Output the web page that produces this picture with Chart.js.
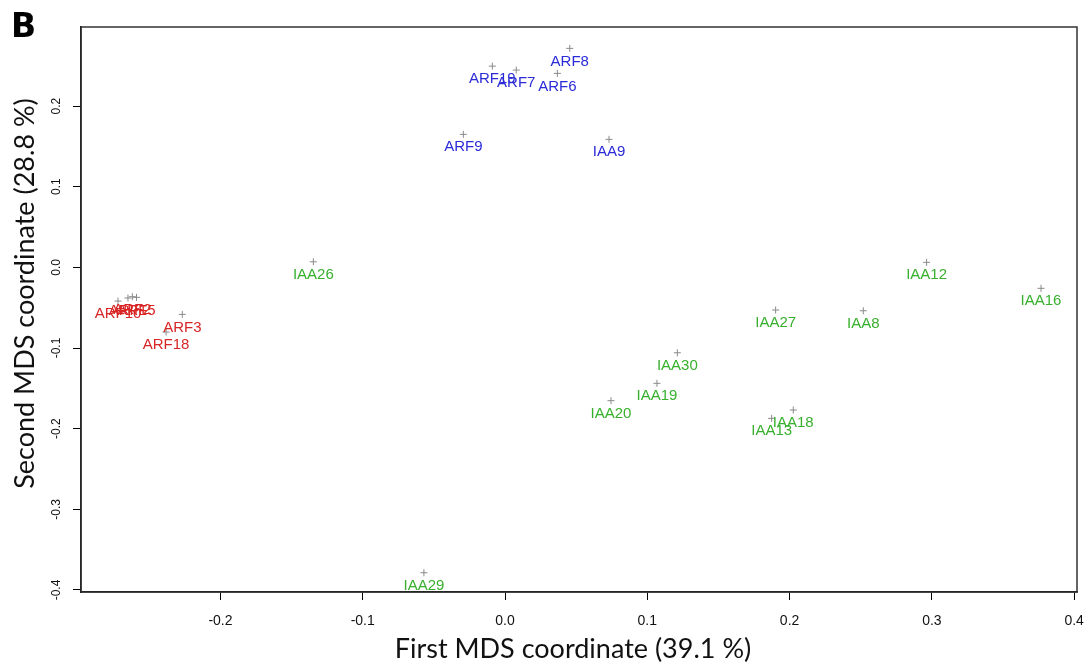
<!DOCTYPE html>
<html>
<head>
<meta charset="utf-8">
<script src="https://cdn.jsdelivr.net/npm/chart.js@4.4.1/dist/chart.umd.min.js"></script>
<style>
  html, body { margin: 0; padding: 0; background: #ffffff; }
  #wrap { width: 1092px; height: 668px; position: relative; }
</style>
</head>
<body>
<div id="wrap"><canvas id="c" width="1092" height="668"></canvas></div>
<script>
// ---- data ----
const panelLabel = 'B';
const xTitle = 'First MDS coordinate (39.1 %)';
const yTitle = 'Second MDS coordinate (28.8 %)';
const xTicks = [-0.2, -0.1, 0.0, 0.1, 0.2, 0.3, 0.4];
const yTicks = [-0.4, -0.3, -0.2, -0.1, 0.0, 0.1, 0.2];
const xRange = [-0.298, 0.402];
const yRange = [-0.4025, 0.298];

const blueNames = ['ARF8', 'ARF6', 'ARF7', 'ARF19', 'ARF9', 'IAA9'];
const blueX = [0.0455, 0.0368, 0.0079, -0.0089, -0.0293, 0.0731];
const blueY = [0.2715, 0.2405, 0.2446, 0.2495, 0.1649, 0.1587];

const redNames = ['ARF10', 'ARF1', 'ARF2', 'ARF5', 'ARF3', 'ARF18'];
const redX = [-0.2720, -0.2650, -0.2619, -0.2590, -0.2268, -0.2382];
const redY = [-0.0418, -0.0380, -0.0364, -0.0372, -0.0583, -0.0802];

const greenNames = ['IAA26', 'IAA29', 'IAA12', 'IAA16', 'IAA27', 'IAA8', 'IAA30', 'IAA19', 'IAA20', 'IAA18', 'IAA13'];
const greenX = [-0.1347, -0.0570, 0.2963, 0.3767, 0.1902, 0.2518, 0.1211, 0.1068, 0.0745, 0.2026, 0.1874];
const greenY = [0.0069, -0.3786, 0.0062, -0.0260, -0.0529, -0.0538, -0.1059, -0.1438, -0.1653, -0.1769, -0.1872];

const blueColor = '#2b2bd8';
const redColor = '#d82626';
const greenColor = '#38b02e';

function pts(xs, ys) { return xs.map((x, i) => ({ x: x, y: ys[i] })); }

const groups = [
  { names: blueNames, color: blueColor, data: pts(blueX, blueY) },
  { names: redNames, color: redColor, data: pts(redX, redY) },
  { names: greenNames, color: greenColor, data: pts(greenX, greenY) }
];

const labelPlugin = {
  id: 'pointLabels',
  afterDatasetsDraw(chart) {
    const ctx = chart.ctx;
    ctx.save();
    ctx.font = '15px "Liberation Sans", Arial, sans-serif';
    ctx.textAlign = 'center';
    ctx.textBaseline = 'middle';
    chart.data.datasets.forEach((ds, i) => {
      const meta = chart.getDatasetMeta(i);
      ctx.fillStyle = ds.labelColor;
      meta.data.forEach((el, j) => {
        ctx.fillText(ds.names[j], el.x, el.y + 13);
      });
    });
    ctx.restore();
  }
};

const frameTitlePlugin = {
  id: 'frameTitle',
  afterDraw(chart) {
    const ctx = chart.ctx;
    const a = chart.chartArea;
    ctx.save();
    ctx.strokeStyle = '#333333';
    ctx.lineWidth = 1.5;
    ctx.strokeRect(a.left, a.top, a.right - a.left, a.bottom - a.top);
    // panel letter
    ctx.fillStyle = '#000000';
    ctx.font = 'bold 33px "DejaVu Sans", "Liberation Sans", sans-serif';
    ctx.textAlign = 'left';
    ctx.textBaseline = 'alphabetic';
    ctx.fillText(panelLabel, 11, 37);
    // axis titles
    ctx.fillStyle = '#111111';
    ctx.textAlign = 'center';
    ctx.textBaseline = 'middle';
    ctx.font = '27px Lato, "Open Sans", sans-serif';
    ctx.fillText(xTitle, (a.left + a.right) / 2 - 6, a.bottom + 57);
    ctx.translate(25, (a.top + a.bottom) / 2 - 16);
    ctx.rotate(-Math.PI / 2);
    ctx.font = '27px Lato, "Open Sans", sans-serif';
    ctx.fillText(yTitle, 0, 0);
    ctx.restore();
  }
};

new Chart(document.getElementById('c'), {
  type: 'scatter',
  data: {
    datasets: groups.map(g => ({
      data: g.data,
      names: g.names,
      labelColor: g.color,
      pointStyle: 'cross',
      pointRadius: 3.5,
      pointHoverRadius: 3.5,
      borderColor: '#8a8a8a',
      backgroundColor: '#8a8a8a',
      borderWidth: 1
    }))
  },
  options: {
    responsive: false,
    animation: false,
    devicePixelRatio: 1,
    layout: { padding: { top: 27, right: 15, left: 0, bottom: 0 } },
    plugins: { legend: { display: false }, tooltip: { enabled: false } },
    events: [],
    scales: {
      x: {
        type: 'linear',
        min: xRange[0],
        max: xRange[1],
        afterFit(scale) { scale.height = 76; scale.paddingLeft = 0; scale.paddingRight = 0; },
        afterBuildTicks(scale) { scale.ticks = xTicks.map(v => ({ value: v })); },
        grid: { display: true, drawOnChartArea: false, drawTicks: true, tickLength: 8, color: '#000000', lineWidth: 1 },
        border: { display: true, color: '#000000', width: 1.5 },
        ticks: {
          autoSkip: false,
          maxRotation: 0,
          minRotation: 0,
          padding: 13,
          color: '#111111',
          font: { family: '"Liberation Sans", Arial, sans-serif', size: 14 },
          callback: v => Number(v).toFixed(1)
        },
        title: { display: false }
      },
      y: {
        type: 'linear',
        min: yRange[0],
        max: yRange[1],
        afterFit(scale) { scale.width = 81; scale.paddingTop = 0; scale.paddingBottom = 0; },
        afterBuildTicks(scale) { scale.ticks = yTicks.map(v => ({ value: v })); },
        grid: { display: true, drawOnChartArea: false, drawTicks: true, tickLength: 8, color: '#000000', lineWidth: 1 },
        border: { display: true, color: '#000000', width: 1.5 },
        ticks: {
          autoSkip: false,
          minRotation: 90,
          maxRotation: 90,
          crossAlign: 'center',
          padding: 6,
          color: '#111111',
          font: { family: '"Liberation Sans", Arial, sans-serif', size: 12 },
          callback: v => Number(v).toFixed(1)
        },
        title: { display: false }
      }
    }
  },
  plugins: [labelPlugin, frameTitlePlugin]
});
</script>
</body>
</html>
